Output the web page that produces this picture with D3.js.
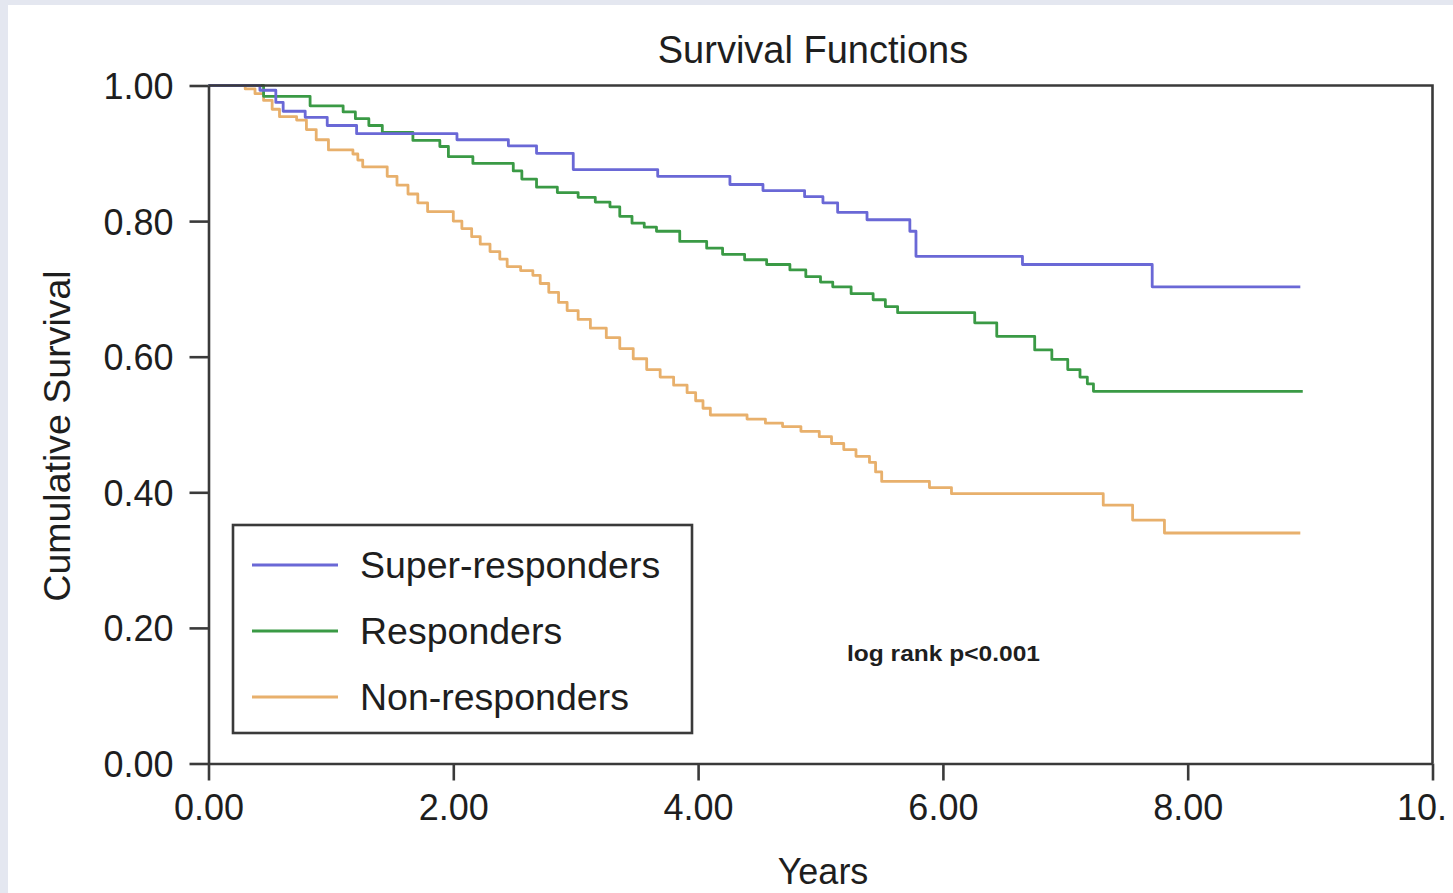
<!DOCTYPE html>
<html>
<head>
<meta charset="utf-8">
<script src="https://cdn.jsdelivr.net/npm/d3@7"></script>
<style>
  html, body { margin: 0; padding: 0; background: #e4e7f0; }
  svg { display: block; }
  text { font-family: "Liberation Sans", Arial, sans-serif; fill: #1e1e1e; }
</style>
</head>
<body>
<svg id="chart" width="1453" height="893"></svg>
<script>
// Kaplan-Meier survival estimates per response group (years, cumulative survival)
const superTimes = [0, 0.42, 0.55, 0.61, 0.79, 0.97, 1.21, 2.03, 2.45, 2.68, 2.98, 3.67, 4.26, 4.53, 4.87, 5.02, 5.14, 5.38, 5.73, 5.78, 6.65, 7.71, 8.92];
const superSurv  = [1.000, 0.993, 0.975, 0.962, 0.953, 0.941, 0.929, 0.920, 0.911, 0.900, 0.876, 0.866, 0.854, 0.845, 0.836, 0.827, 0.813, 0.802, 0.785, 0.748, 0.736, 0.703, 0.703];

const respTimes = [0, 0.45, 0.83, 1.10, 1.20, 1.31, 1.42, 1.67, 1.89, 1.96, 2.16, 2.49, 2.56, 2.68, 2.85, 3.02, 3.16, 3.28, 3.36, 3.46, 3.56, 3.66, 3.85, 4.07, 4.20, 4.38, 4.56, 4.75, 4.88, 5.00, 5.10, 5.25, 5.43, 5.53, 5.63, 6.26, 6.44, 6.75, 6.89, 7.02, 7.12, 7.18, 7.23, 8.94];
const respSurv  = [1.000, 0.984, 0.970, 0.961, 0.951, 0.941, 0.931, 0.919, 0.910, 0.895, 0.885, 0.874, 0.862, 0.850, 0.842, 0.835, 0.828, 0.821, 0.807, 0.797, 0.791, 0.785, 0.770, 0.760, 0.751, 0.743, 0.736, 0.728, 0.718, 0.710, 0.703, 0.693, 0.684, 0.674, 0.665, 0.650, 0.630, 0.610, 0.596, 0.581, 0.570, 0.560, 0.549, 0.549];

const nonTimes = [0, 0.30, 0.38, 0.45, 0.52, 0.58, 0.72, 0.80, 0.88, 0.98, 1.18, 1.22, 1.26, 1.46, 1.54, 1.63, 1.71, 1.79, 2.00, 2.07, 2.15, 2.22, 2.30, 2.38, 2.44, 2.55, 2.65, 2.71, 2.78, 2.86, 2.93, 3.02, 3.12, 3.25, 3.36, 3.47, 3.58, 3.69, 3.80, 3.91, 3.98, 4.04, 4.10, 4.40, 4.55, 4.69, 4.84, 4.99, 5.09, 5.19, 5.29, 5.40, 5.45, 5.50, 5.89, 6.07, 7.31, 7.55, 7.81, 8.92];
const nonSurv  = [1.000, 0.995, 0.988, 0.978, 0.965, 0.954, 0.949, 0.935, 0.920, 0.905, 0.899, 0.890, 0.880, 0.866, 0.853, 0.840, 0.827, 0.814, 0.800, 0.789, 0.777, 0.766, 0.755, 0.744, 0.733, 0.727, 0.720, 0.708, 0.695, 0.680, 0.668, 0.655, 0.642, 0.628, 0.612, 0.597, 0.581, 0.570, 0.558, 0.547, 0.535, 0.524, 0.514, 0.508, 0.502, 0.497, 0.490, 0.482, 0.472, 0.463, 0.453, 0.444, 0.430, 0.416, 0.407, 0.398, 0.381, 0.359, 0.340, 0.340];

const seriesNames = ["Super-responders", "Responders", "Non-responders"];
const seriesColors = ["#6a68d6", "#3a9a45", "#e8b06c"];

const xTicks = [0, 2, 4, 6, 8, 10];
const xTickLabels = ["0.00", "2.00", "4.00", "6.00", "8.00", "10."];
const yTicks = [0, 0.2, 0.4, 0.6, 0.8, 1.0];

const titleText = "Survival Functions";
const xLabel = "Years";
const yLabel = "Cumulative Survival";
const noteText = "log rank p<0.001";

const svg = d3.select("#chart");

// white page area
svg.append("rect").attr("x", 8).attr("y", 5).attr("width", 1445).attr("height", 888).attr("fill", "#ffffff");

const x = d3.scaleLinear().domain([0, 10]).range([208.5, 1432.5]);
const y = d3.scaleLinear().domain([0, 1]).range([763.5, 85.5]);

// curves
const line = d3.line()
  .x(d => x(d[0]))
  .y(d => y(d[1]))
  .curve(d3.curveStepAfter);

const series = [
  d3.zip(superTimes, superSurv),
  d3.zip(respTimes, respSurv),
  d3.zip(nonTimes, nonSurv)
];

// draw non-responders first so the upper curves sit on top
[2, 1, 0].forEach(i => {
  svg.append("path")
    .datum(series[i])
    .attr("d", line)
    .attr("fill", "none")
    .attr("stroke", seriesColors[i])
    .attr("stroke-width", 2.8)
    .attr("stroke-linejoin", "round");
});

// plot frame (top and right edges)
svg.append("path")
  .attr("d", `M${x(0)},${y(1)}H${x(10)}V${y(0)}`)
  .attr("fill", "none")
  .attr("stroke", "#3a3a3a")
  .attr("stroke-width", 2.6);

// axes
const yAxis = svg.append("g")
  .attr("transform", `translate(${x(0)},0)`)
  .call(d3.axisLeft(y).tickValues(yTicks).tickSize(19).tickSizeOuter(0).tickPadding(16).tickFormat(d3.format(".2f")));
yAxis.select(".domain").attr("stroke", "#3a3a3a").attr("stroke-width", 2.6);
yAxis.selectAll(".tick line").attr("stroke", "#3a3a3a").attr("stroke-width", 2.6);
yAxis.selectAll(".tick text").attr("font-size", 36).attr("font-family", "Liberation Sans, Arial, sans-serif").attr("fill", "#1e1e1e").attr("dy", "0.36em");

const xAxis = svg.append("g")
  .attr("transform", `translate(0,${y(0)})`)
  .call(d3.axisBottom(x).tickValues(xTicks).tickSize(17).tickSizeOuter(0).tickPadding(14)
    .tickFormat((d, i) => xTickLabels[i]));
xAxis.select(".domain").attr("stroke", "#3a3a3a").attr("stroke-width", 2.6);
xAxis.selectAll(".tick line").attr("stroke", "#3a3a3a").attr("stroke-width", 2.6);
xAxis.selectAll(".tick text").attr("font-size", 36).attr("font-family", "Liberation Sans, Arial, sans-serif").attr("fill", "#1e1e1e");
// the last label is shown truncated, starting where a full "10.00" would begin
xAxis.selectAll(".tick text").filter(d => d === 10)
  .attr("text-anchor", "start").attr("dx", -36);

// titles
svg.append("text").attr("x", 813).attr("y", 63).attr("text-anchor", "middle")
  .attr("font-size", 38).text(titleText);
svg.append("text").attr("x", 823).attr("y", 884).attr("text-anchor", "middle")
  .attr("font-size", 36).text(xLabel);
svg.append("text").attr("transform", "translate(70,436) rotate(-90)").attr("text-anchor", "middle")
  .attr("font-size", 37.5).text(yLabel);

// annotation
svg.append("text").attr("x", 847).attr("y", 661)
  .attr("font-family", "Lato, 'Open Sans', sans-serif").attr("font-weight", "bold")
  .attr("font-size", 22).attr("textLength", 193).attr("lengthAdjust", "spacingAndGlyphs")
  .text(noteText);

// legend
const legend = svg.append("g");
legend.append("rect").attr("x", 233).attr("y", 525).attr("width", 459).attr("height", 208)
  .attr("fill", "#ffffff").attr("stroke", "#3a3a3a").attr("stroke-width", 2.6);
const rowY = [565, 631, 697];
seriesNames.forEach((name, i) => {
  legend.append("line").attr("x1", 252).attr("x2", 338).attr("y1", rowY[i]).attr("y2", rowY[i])
    .attr("stroke", seriesColors[i]).attr("stroke-width", 3);
  legend.append("text").attr("x", 360).attr("y", rowY[i] + 13).attr("font-size", 37.5).text(name);
});
</script>
</body>
</html>
